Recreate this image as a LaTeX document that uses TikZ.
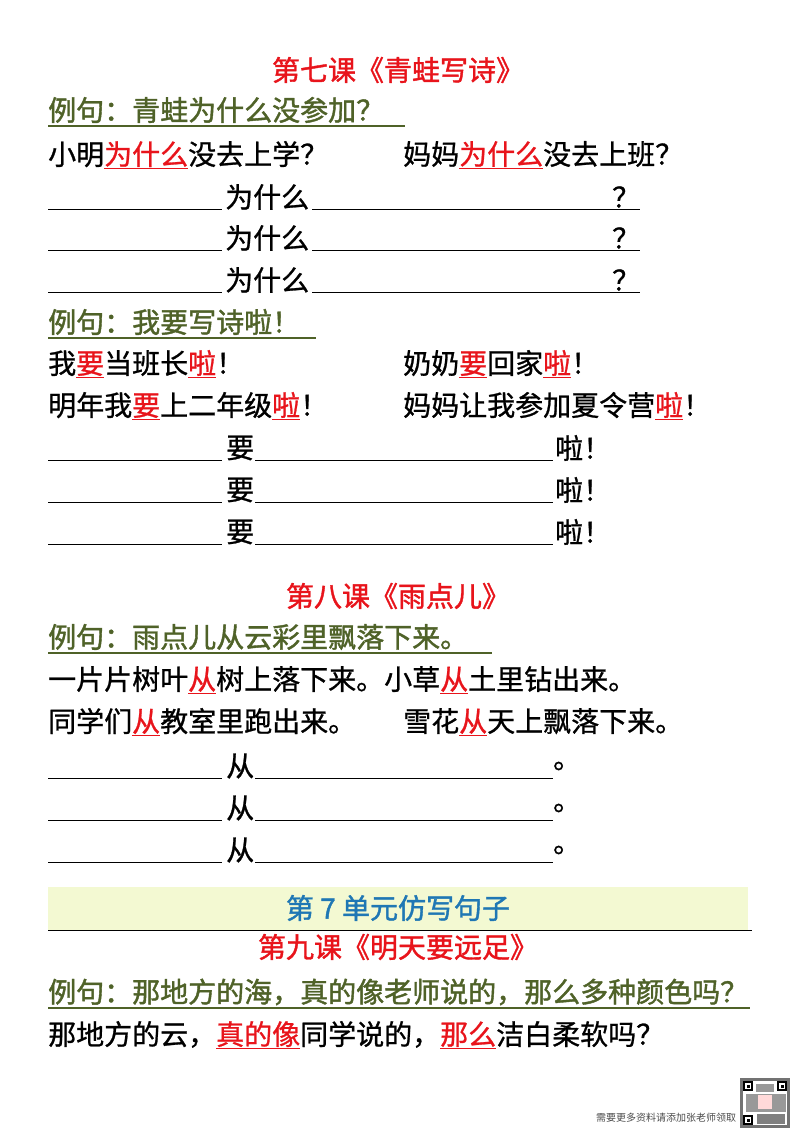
\documentclass[tikz,border=0pt]{standalone}
\usepackage{fontspec}
\setmainfont{Noto Sans CJK SC}
\newfontfamily\hb[FakeBold=1.4]{Noto Sans CJK SC}
\newfontfamily\hm[FakeBold=0.9]{Noto Sans CJK SC}
\usepackage{xcolor}
\definecolor{tred}{HTML}{E8141B}
\definecolor{tgreen}{HTML}{4F6228}
\definecolor{tblue}{HTML}{1F77B4}
\definecolor{band}{HTML}{F3F9D2}
\newcommand\ru[1]{\textcolor{tred}{\underline{#1}}}
\begin{document}
\begin{tikzpicture}[x=1pt,y=-1pt,
  txt/.style={anchor=west,inner sep=0pt,font=\hm\fontsize{28}{30}\selectfont},
  ttl/.style={inner sep=0pt,font=\hb\fontsize{28}{30}\selectfont,text=tred},
  ex/.style={txt,font=\hb\fontsize{28}{30}\selectfont,text=tgreen},
  exline/.style={tgreen,line width=1.2pt},
  blank/.style={line width=1pt}]
\useasboundingbox (0,0) rectangle (800,1132);
\fill[white] (0,0) rectangle (800,1132);
% Lesson 7
\node[ttl] (t7) at (398,70) {第七课《青蛙写诗》};
\node[ex] (e1) at (48,110) {例句：青蛙为什么没参加？};
\draw[exline] (48,126) -- (405,126);
\node[txt] (a1) at (48,155) {小明\ru{为什么}没去上学？};
\node[txt] (a2) at (403,155) {妈妈\ru{为什么}没去上班？};
\foreach \y in {197,238,280}{
  \draw[blank] (48,\y+12) -- (222,\y+12);
  \node[txt] at (225,\y) {为什么};
  \draw[blank] (312,\y+12) -- (640,\y+12);
  \node[txt] at (612,\y) {？};
}
\node[ex] (e2) at (48,322) {例句：我要写诗啦！};
\draw[exline] (48,338) -- (316,338);
\node[txt] (b1) at (48,364) {我\ru{要}当班长\ru{啦}！};
\node[txt] (b2) at (403,364) {奶奶\ru{要}回家\ru{啦}！};
\node[txt] (b3) at (48,406) {明年我\ru{要}上二年级\ru{啦}！};
\node[txt] (b4) at (403,406) {妈妈让我参加夏令营\ru{啦}！};
\foreach \y in {448,490,532}{
  \draw[blank] (48,\y+12) -- (222,\y+12);
  \node[txt] at (226,\y) {要};
  \draw[blank] (255,\y+12) -- (553,\y+12);
  \node[txt] at (555,\y) {啦！};
}
% Lesson 8
\node[ttl] (t8) at (398,596) {第八课《雨点儿》};
\node[ex] (e3) at (48,637) {例句：雨点儿从云彩里飘落下来。};
\draw[exline] (48,653) -- (492,653);
\node[txt] (c1) at (48,680) {一片片树叶\ru{从}树上落下来。小草\ru{从}土里钻出来。};
\node[txt] (c2) at (48,722) {同学们\ru{从}教室里跑出来。};
\node[txt] (c3) at (403,722) {雪花\ru{从}天上飘落下来。};
\foreach \y in {766,808,850}{
  \draw[blank] (48,\y+12) -- (222,\y+12);
  \node[txt] at (226,\y) {从};
  \draw[blank] (255,\y+12) -- (553,\y+12);
  \node[txt] at (553,\y) {。};
}
% Unit band
\fill[band] (48,887) rectangle (748,930);
\draw[line width=0.8pt] (48,930.5) -- (752,930.5);
\node[inner sep=0pt,font=\hb\fontsize{28}{30}\selectfont,text=tblue] (u7) at (398,908) {第 7 单元仿写句子};
% Lesson 9
\node[ttl] (t9) at (398,947) {第九课《明天要远足》};
\node[ex] (e4) at (48,992) {例句：那地方的海，真的像老师说的，那么多种颜色吗？};
\draw[exline] (48,1008) -- (750,1008);
\node[txt] (d1) at (48,1035) {那地方的云，\ru{真的像}同学说的，\ru{那么}洁白柔软吗？};
% footer
\node[anchor=west,inner sep=0pt,font=\fontsize{10}{11}\selectfont,text=black!70] (ft) at (596,1118) {需要更多资料请添加张老师领取};
\fill[black!55] (740,1078) rectangle (790,1128);
\fill[white] (743,1081) rectangle (787,1125);
\foreach \x/\y in {743/1081,777/1081,743/1115}{
  \fill[black] (\x,\y) rectangle (\x+10,\y+10);
  \fill[white] (\x+2,\y+2) rectangle (\x+8,\y+8);
  \fill[black] (\x+3.5,\y+3.5) rectangle (\x+6.5,\y+6.5);}
\fill[black!40] (756,1084) rectangle (774,1092);
\fill[black!40] (746,1094) rectangle (786,1112);
\fill[pink!60] (758,1095) rectangle (772,1109);
\fill[black!50] (757,1114) rectangle (785,1124);
\end{tikzpicture}
\end{document}
